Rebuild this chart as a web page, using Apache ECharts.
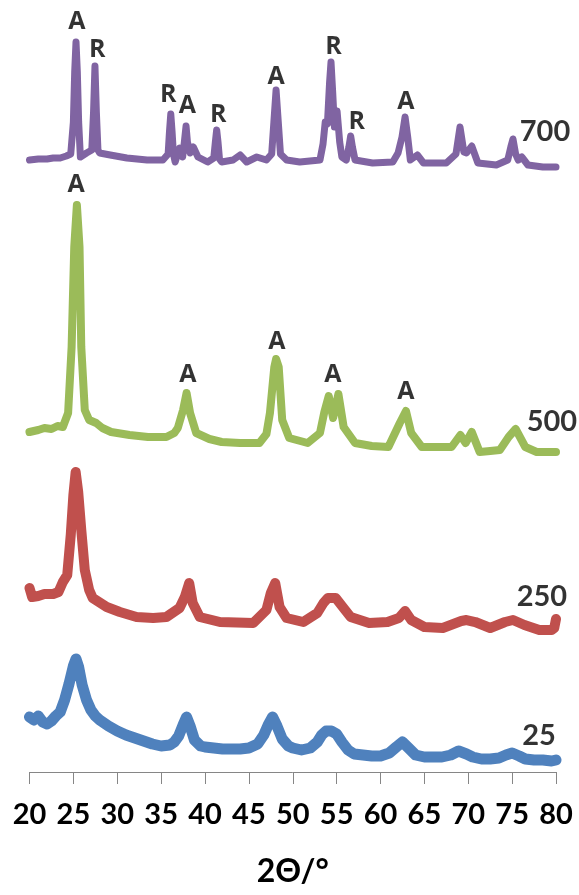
<!DOCTYPE html>
<html><head><meta charset="utf-8">
<script src="https://cdn.jsdelivr.net/npm/echarts@6/dist/echarts.min.js"></script>
<style>html,body{margin:0;padding:0;background:#fff}#c{width:579px;height:895px}</style>
</head><body><div id="c"></div>
<script>
// 2-theta (deg) vs intensity (arbitrary units, stacked offsets as in the figure)
const s700 = [[20,612],[21,613],[22,613],[22.7,614],[23.5,614],[24.2,616],[24.7,618],[25.0,650],[25.15,700],[25.3,730],[25.45,700],[25.6,650],[25.8,615],[26.5,619],[27.1,622],[27.3,660],[27.46,706],[27.62,660],[27.8,622],[28.0,619],[29.2,617],[31.1,614],[33.4,612],[35.2,612],[35.8,618],[35.95,640],[36.1,658],[36.25,640],[36.4,618],[36.6,610],[37.1,624],[37.45,615],[37.65,630],[37.84,646],[38.0,630],[38.3,619],[38.67,625],[39.2,615],[40.3,610],[41.0,614],[41.18,630],[41.33,642],[41.48,630],[41.65,613],[41.9,610],[43.2,612],[44.0,617],[44.75,610],[45.9,615],[47.0,612],[47.6,618],[47.85,650],[48.1,682],[48.35,650],[48.6,618],[49.3,612],[50.8,610],[53.1,612],[53.45,628],[53.7,650],[53.95,648],[54.2,690],[54.36,710],[54.55,680],[54.75,645],[55.05,661],[55.35,630],[55.6,615],[56.1,612],[56.4,625],[56.6,636],[56.8,625],[57.1,612],[59.1,609],[61.4,610],[62.0,619],[62.45,635],[62.8,655],[63.1,635],[63.4,612],[64.2,617],[64.9,609],[67.5,609],[68.6,618],[69.06,645],[69.5,620],[69.8,619],[70.4,626],[71.1,609],[73.2,607],[74.5,612],[74.85,625],[75.1,633],[75.4,618],[75.7,612],[76.1,615],[76.8,607],[78.5,605],[80,605]];
const s500 = [[20,340],[21,342],[21.7,344],[22.5,343],[23.2,346],[23.8,345],[24.4,359],[24.8,425],[25.1,525],[25.4,567],[25.7,525],[25.9,425],[26.3,362],[26.8,352],[27.6,349],[28.3,344],[29.3,340],[31.4,337],[33.5,335],[35.6,335],[36.5,339],[36.9,344],[37.5,362],[37.9,379],[38.3,359],[39,339],[40.5,333],[41.9,330],[44,329],[46.2,329],[47,338],[47.4,359],[47.9,405],[48.1,413],[48.4,405],[48.8,352],[49.6,334],[51.7,329],[53.1,339],[53.6,360],[54.1,376],[54.6,354],[55.2,378],[55.8,345],[57.1,329],[59,326],[60.9,325],[62.2,349],[62.9,361],[63.5,339],[64.7,325],[66.5,325],[68.1,325],[68.6,331],[69.1,337],[69.7,329],[70.4,340],[71.3,320],[72.5,321],[73.6,322],[74.6,335],[75.4,343],[76.5,325],[77.8,320],[79,320],[80,320]];
const s250 = [[20,184],[20.3,175],[21,176],[21.7,178],[22.7,178],[23.3,180],[23.8,190],[24.3,197],[24.7,237],[25.0,277],[25.26,300],[25.55,280],[25.9,242],[26.3,202],[26.8,182],[27.2,174],[28.8,165],[30.3,160],[32.2,155],[34.1,154],[35.6,155],[37.1,164],[37.7,175],[38.2,189],[38.6,169],[39.4,155],[41.7,150],[45.5,149],[47.0,162],[47.5,179],[48.0,189],[48.5,165],[49.3,154],[51.2,150],[52.8,159],[53.5,169],[54.0,174],[54.9,174],[55.7,165],[56.6,155],[58.7,149],[60.8,150],[62.1,154],[62.8,161],[63.5,152],[65.0,145],[67.1,144],[69.2,151],[69.8,152],[70.8,150],[72.5,144],[74.2,150],[75.1,152],[76.4,147],[78.1,142],[79.5,142],[79.8,144],[80,153]];
const s25 = [[20,55],[20.5,52],[21,56],[21.5,50],[22,48],[22.5,51],[23,56],[23.5,60],[24,72],[24.5,88],[25,106],[25.3,113],[25.6,105],[26,87],[26.5,72],[27,62],[27.5,56],[28,52],[29,46],[30,41],[31,37],[32,34],[33,31],[34,28],[35,26],[36,27],[36.5,30],[37,36],[37.5,47],[37.9,55],[38.3,46],[38.8,32],[39.5,26],[40,25],[41,24],[42,23],[43,23],[44,23],[45,24],[46,28],[46.7,37],[47.2,47],[47.7,55],[48.2,46],[48.8,33],[49.5,26],[50,24],[51,22],[52,24],[52.8,30],[53.3,37],[53.8,41],[54.4,41],[55,38],[55.6,30],[56.3,22],[57,18],[58,17],[59,16],[60,16],[61,19],[61.8,25],[62.5,30],[63.2,24],[64,17],[65,15],[66,15],[67,15],[68,17],[68.9,21],[69.8,18],[70.5,15],[71.5,13],[72.5,13],[73.5,14],[74.3,17],[75,19],[75.8,16],[76.5,13],[77.5,12],[78.5,12],[79.5,11],[80,12]];

// phase annotations: [2theta, height, text]
const peaks700 = [[25.4,750,'A'],[27.72,722,'R'],[35.8,677,'R'],[38.0,666,'A'],[41.52,657,'R'],[48.1,695,'A'],[54.65,725,'R'],[57.3,650,'R'],[62.9,670,'A']];
const peaks500 = [[25.3,587,'A'],[38.06,397,'A'],[48.2,430,'A'],[54.58,397,'A'],[62.9,380,'A']];
// sample temperature labels: [2theta, height, text]
const tempLabels = [[78.75,640,'700'],[79.54,350,'500'],[78.4,175,'250'],[78.06,36,'25']];

const FONT = 'Lato, "Open Sans", sans-serif';
const LETTER_FONT = '"Open Sans", Lato, sans-serif';
function lineSeries(name, data, color, width) {
  return { name, type: 'line', data, showSymbol: false, symbol: 'none', smooth: false,
    lineStyle: { color, width, join: 'round', cap: 'round' }, itemStyle: { color }, z: 2, silent: true };
}
function textSeries(arr, family, size, weight) {
  return { type: 'scatter', symbolSize: 0, z: 5, silent: true,
    data: arr.map(d => ({ value: [d[0], d[1]], name: d[2] })),
    label: { show: true, position: 'inside', formatter: p => p.name, color: '#000',
      fontFamily: family, fontSize: size, fontWeight: weight } };
}

const chart = echarts.init(document.getElementById('c'), null, { renderer: 'canvas' });
chart.setOption({
  animation: false,
  backgroundColor: '#fff',
  grid: { left: 29.5, right: 23, top: 0, bottom: 123, containLabel: false, outerBoundsMode: 'none' },
  xAxis: {
    type: 'value', min: 20, max: 80, interval: 5,
    name: '2Θ/°', nameLocation: 'middle', nameGap: 84,
    nameTextStyle: { fontFamily: FONT, fontSize: 32, fontWeight: 'bold', color: '#000' },
    axisLine: { show: true, lineStyle: { color: '#868686', width: 1 } },
    axisTick: { show: true, length: 12, lineStyle: { color: '#868686', width: 1 } },
    axisLabel: { margin: 28, fontFamily: FONT, fontSize: 29, fontWeight: 'bold', color: '#000' },
    splitLine: { show: false }
  },
  yAxis: { type: 'value', min: 0, max: 772, show: false, splitLine: { show: false } },
  series: [
    lineSeries('700', s700, '#8064A2', 7),
    lineSeries('500', s500, '#9BBB59', 8),
    lineSeries('250', s250, '#C0504D', 10),
    lineSeries('25', s25, '#4F81BD', 11),
    textSeries(peaks700, LETTER_FONT, 25, 'bold'),
    textSeries(peaks500, LETTER_FONT, 25, 'bold'),
    textSeries(tempLabels, FONT, 29, 'bold')
  ]
});
</script>
</body></html>
